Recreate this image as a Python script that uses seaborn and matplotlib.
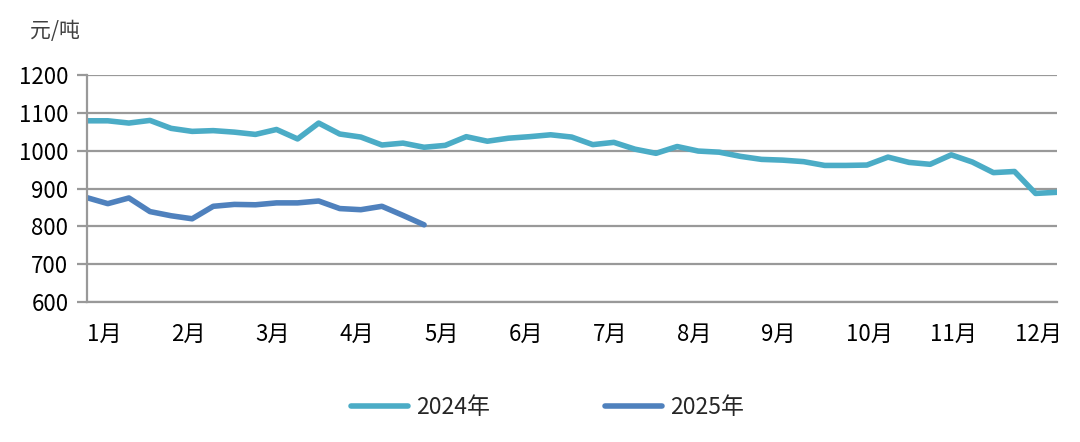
import numpy as np
import pandas as pd
import matplotlib
matplotlib.use('Agg')
import matplotlib.pyplot as plt
import seaborn as sns

# 周度价格（元/吨），读图估计
price_2024 = [1079, 1079, 1073, 1080, 1059, 1051, 1053, 1049, 1043, 1056,
              1031, 1073, 1044, 1036, 1015, 1020, 1009, 1014, 1037, 1025,
              1033, 1037, 1042, 1036, 1016, 1022, 1004, 993, 1011, 999,
              996, 985, 977, 975, 971, 961, 961, 962, 983, 969,
              964, 989, 970, 942, 945, 887, 890]
price_2025 = [876, 860, 875, 839, 828, 820, 853, 858, 857, 862,
              862, 867, 847, 844, 853, 829, 804]
series_names = ['2024年', '2025年']
series_colors = ['#4BACC6', '#4F81BD']
month_labels = ['1月', '2月', '3月', '4月', '5月', '6月',
                '7月', '8月', '9月', '10月', '11月', '12月']
y_ticks = [600, 700, 800, 900, 1000, 1100, 1200]

df = pd.concat([
    pd.DataFrame({'week': np.arange(len(price_2024)), 'price': price_2024, 'series': series_names[0]}),
    pd.DataFrame({'week': np.arange(len(price_2025)), 'price': price_2025, 'series': series_names[1]}),
])

sns.set_style('white')
plt.rcParams['font.family'] = ['Noto Sans CJK SC', 'DejaVu Sans']

fig = plt.figure(figsize=(10.8, 4.42), dpi=100)
ax = fig.add_axes([0.0803, 0.3167, 0.8981, 0.5136])

sns.lineplot(data=df, x='week', y='price', hue='series', palette=series_colors,
             linewidth=4.0, ax=ax, legend=True)

ax.set_xlim(0, len(price_2024) - 1)
ax.set_ylim(600, 1200)
ax.set_yticks(y_ticks)
ax.set_yticklabels([str(v) for v in y_ticks], fontsize=16, color='#000000')
ax.yaxis.grid(True, color='#999999', linewidth=1.6)
ax.set_axisbelow(True)

ax.set_xticks(np.arange(0, 4 * len(month_labels), 4))
ax.set_xticklabels(month_labels, fontsize=16, ha='left', color='#000000')
ax.tick_params(axis='x', length=0, pad=15)
ax.tick_params(axis='y', length=7.2, width=1.6, color='#999999', pad=6, left=True)

for side in ['top', 'right']:
    ax.spines[side].set_visible(False)
ax.spines['left'].set_color('#999999')
ax.spines['left'].set_linewidth(1.6)
ax.spines['bottom'].set_color('#999999')
ax.spines['bottom'].set_linewidth(1.6)
ax.set_xlabel('')
ax.set_ylabel('')

fig.text(0.028, 0.93, '元/吨', fontsize=15, color='#404040', va='center', ha='left')

handles, labels = ax.get_legend_handles_labels()
ax.legend(handles, labels, loc='center', bbox_to_anchor=(0.507, 0.077),
          bbox_transform=fig.transFigure, ncol=2, frameon=False, fontsize=16.5,
          handlelength=2.5, handletextpad=0.35, columnspacing=5.0)

fig.savefig('out.png', dpi=100)
